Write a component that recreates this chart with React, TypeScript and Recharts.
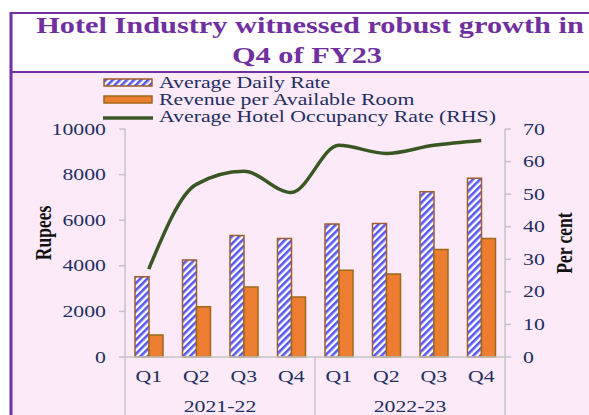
import React from 'react'
import { ComposedChart, Bar, Line, XAxis, YAxis } from 'recharts'

const quarters = ['Q1', 'Q2', 'Q3', 'Q4', 'Q1', 'Q2', 'Q3', 'Q4']
const fiscalYears = ['2021-22', '2022-23']
const avgDailyRate = [3520, 4250, 5330, 5200, 5830, 5860, 7250, 7840]
const revPar = [970, 2200, 3070, 2630, 3800, 3640, 4720, 5200]
const occupancy = [27, 53, 57, 50.5, 65, 62.5, 65, 66.5]
const rupeeTicks = [0, 2000, 4000, 6000, 8000, 10000]
const percentTicks = [0, 10, 20, 30, 40, 50, 60, 70]

const data = quarters.map((q, i) => ({
  key: `${fiscalYears[Math.floor(i / 4)]} ${q}`,
  adr: avgDailyRate[i],
  revpar: revPar[i],
  occ: occupancy[i],
}))

const FONT = "'Liberation Serif', 'Times New Roman', serif"
const SX = 1.32 // the source picture is stretched sideways
const NAVY = '#1f2f5f'
const PURPLE = '#7030a0'
const AXIS = '#c4c4c4'

const SText = ({ x, y, anchor = 'start', size = 16.5, weight = 'normal', fill = NAVY, rotate = 0, children }: any) => (
  <text
    transform={`translate(${x},${y}) scale(${SX},1)${rotate ? ` rotate(${rotate})` : ''}`}
    textAnchor={anchor}
    fontFamily={FONT}
    fontSize={size}
    fontWeight={weight}
    fill={fill}
  >
    {children}
  </text>
)

const LeftTick = (props: any) => (
  <SText x={props.x} y={props.y + 5.5} anchor="end">{props.payload.value}</SText>
)

const RightTick = (props: any) => (
  <SText x={props.x} y={props.y + 5.5} anchor="start">{props.payload.value}</SText>
)

const QuarterTick = (props: any) => {
  const { x, y, index, payload } = props
  const half = payload.offset || 23.75
  const top = y - 8
  return (
    <g>
      <SText x={x} y={y + 17} anchor="middle">{quarters[index]}</SText>
      {index % 4 === 0 && <line x1={x - half} x2={x - half} y1={top} y2={415} stroke={AXIS} strokeWidth={1.5} />}
      {index === quarters.length - 1 && <line x1={x + half} x2={x + half} y1={top} y2={415} stroke={AXIS} strokeWidth={1.5} />}
      {index % 4 === 1 && (
        <SText x={x + half} y={y + 47} anchor="middle">{fiscalYears[Math.floor(index / 4)]}</SText>
      )}
    </g>
  )
}

const Hatch = ({ id }: { id: string }) => (
  <pattern id={id} width="5" height="5" patternUnits="userSpaceOnUse" patternTransform="rotate(45)">
    <rect width="5" height="5" fill="#ffffff" />
    <rect width="2.6" height="5" fill="#5858f2" />
  </pattern>
)

const Frame = () => (
  <svg width={589} height={415} style={{ position: 'absolute', left: 0, top: 0 }}>
    <defs>
      <Hatch id="legendHatch" />
    </defs>
    <rect x={0} y={0} width={589} height={415} fill="#ffffff" />
    <rect x={10} y={72} width={579} height={343} fill="#fdeaf9" />
    <line x1={10} x2={589} y1={13} y2={13} stroke={PURPLE} strokeWidth={2} />
    <line x1={10} x2={589} y1={72} y2={72} stroke={PURPLE} strokeWidth={2.2} />
    <line x1={11} x2={11} y1={12} y2={415} stroke={PURPLE} strokeWidth={3} />
    <SText x={310} y={33} anchor="middle" size={23} weight="bold" fill={PURPLE}>
      Hotel Industry witnessed robust growth in
    </SText>
    <SText x={307} y={63} anchor="middle" size={23} weight="bold" fill={PURPLE}>
      Q4 of FY23
    </SText>
    <rect x={104} y={79} width={48} height={7} fill="url(#legendHatch)" stroke="#9e5b2b" strokeWidth={1.5} />
    <SText x={159} y={88}>Average Daily Rate</SText>
    <rect x={104} y={96} width={48} height={7} fill="#ed7d31" stroke="#9e6a1a" strokeWidth={1.5} />
    <SText x={159} y={105}>Revenue per Available Room</SText>
    <line x1={103} x2={153} y1={118} y2={118} stroke="#385723" strokeWidth={3.5} />
    <SText x={159} y={121.5}>Average Hotel Occupancy Rate (RHS)</SText>
  </svg>
)

export default function App() {
  return (
    <div style={{ position: 'fixed', left: 0, top: 0, width: 589, height: 415, overflow: 'hidden' }}>
      <Frame />
      <div style={{ position: 'absolute', left: 0, top: 0 }}>
        <ComposedChart
          width={589}
          height={415}
          data={data}
          margin={{ top: 129, right: 0, bottom: 28, left: 0 }}
          barGap={0}
        >
          <defs>
            <Hatch id="adrHatch" />
          </defs>
          <XAxis
            dataKey="key"
            height={30}
            axisLine={{ stroke: AXIS, strokeWidth: 1.5 }}
            tickLine={false}
            interval={0}
            tick={<QuarterTick />}
          />
          <YAxis
            yAxisId="left"
            width={125}
            domain={[0, 10000]}
            ticks={rupeeTicks}
            axisLine={{ stroke: AXIS, strokeWidth: 1.5 }}
            tickLine={{ stroke: AXIS, strokeWidth: 1.5 }}
            tickSize={6}
            tickMargin={13}
            tick={<LeftTick />}
            label={{
              content: (p: any) => (
                <SText x={p.viewBox.x + 51} y={p.viewBox.y + p.viewBox.height / 2 - 10} anchor="middle" size={17.5} weight="bold" rotate={-90} fill="#111">
                  Rupees
                </SText>
              ),
            }}
          />
          <YAxis
            yAxisId="right"
            orientation="right"
            width={84}
            domain={[0, 70]}
            ticks={percentTicks}
            axisLine={{ stroke: AXIS, strokeWidth: 1.5 }}
            tickLine={{ stroke: AXIS, strokeWidth: 1.5 }}
            tickSize={6}
            tickMargin={12}
            tick={<RightTick />}
            label={{
              content: (p: any) => (
                <SText x={p.viewBox.x + 67} y={p.viewBox.y + p.viewBox.height / 2} anchor="middle" size={17.5} weight="bold" rotate={-90} fill="#111">
                  Per cent
                </SText>
              ),
            }}
          />
          <Bar yAxisId="left" dataKey="adr" barSize={14} fill="url(#adrHatch)" stroke="#9e5b2b" strokeWidth={1.5} isAnimationActive={false} />
          <Bar yAxisId="left" dataKey="revpar" barSize={14} fill="#ed7d31" stroke="#9e6a1a" strokeWidth={1.5} isAnimationActive={false} />
          <Line yAxisId="right" dataKey="occ" type="monotone" stroke="#385723" strokeWidth={3.5} dot={false} isAnimationActive={false} />
        </ComposedChart>
      </div>
    </div>
  )
}
